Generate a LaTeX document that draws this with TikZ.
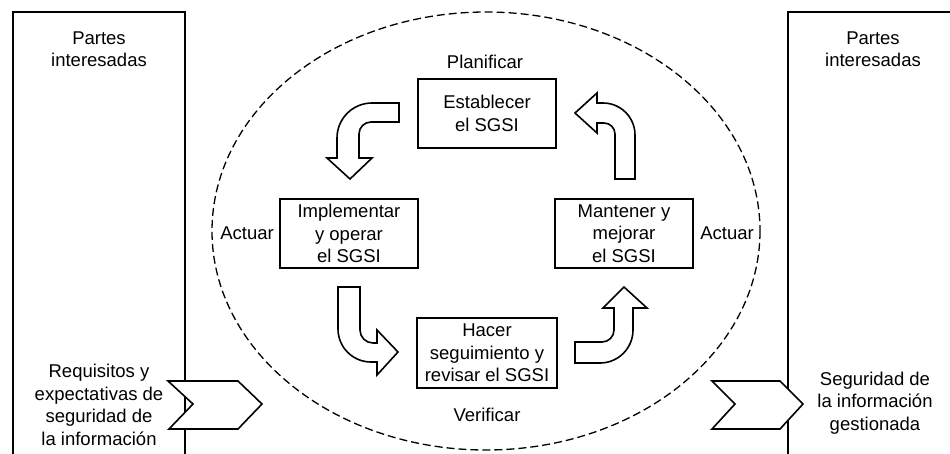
\documentclass[tikz,border=0pt]{standalone}
\usepackage{fontspec}
\setmainfont{Liberation Sans}
\newcommand\txtfont{\fontsize{18.5}{22.5}\selectfont}
\tikzset{
  frame/.style={line width=1.6pt},
  box/.style={draw, line width=1.6pt, minimum width=138pt, minimum height=69pt, align=center, inner sep=0pt, font=\txtfont},
  lbl/.style={align=center, font=\txtfont, inner sep=0pt},
  blockarrow/.style={draw, line width=1.6pt, fill=white, line join=miter},
  chev/.style={draw, line width=1.6pt, fill=white, line join=miter},
  cycleline/.style={dash pattern=on 8pt off 4pt, line width=1.3pt},
}
\begin{document}
\begin{tikzpicture}[x=1pt, y=-1pt]
\useasboundingbox (0,0) rectangle (950,453);
% outer stakeholder boxes
\draw[frame] (13,460) -- (13,12) -- (185,12) -- (185,460);
\draw[frame] (788,460) -- (788,12) -- (955,12);
\node[lbl] (pl) at (99,49) {Partes\\interesadas};
\node[lbl] (pr) at (873,49) {Partes\\interesadas};
\node[lbl] (req) at (99,405) {Requisitos y\\expectativas de\\seguridad de\\la información};
\node[lbl] (seg) at (875,403) {Seguridad de\\la información\\gestionada};
% dashed cycle
\draw[cycleline] (486,231) ellipse [x radius=274, y radius=219];
% chevrons
\draw[chev] (168,381) -- (238,381) -- (262,404) -- (238,429) -- (169,429) -- (193,404) -- cycle;
\draw[chev] (712,381) -- (780,381) -- (803,404) -- (780,429) -- (712,429) -- (735,404) -- cycle;
% process boxes
\node[box] (est) at (487,113.5) {Establecer\\el SGSI};
\node[box] (imp) at (349,233.5) {Implementar\\y operar\\el SGSI};
\node[box] (man) at (624,233.5) {Mantener y\\mejorar\\el SGSI};
\node[box, minimum width=140pt, minimum height=70pt] (hac) at (487,353) {Hacer\\seguimiento y\\revisar el SGSI};
% phase labels
\node[lbl] (plan) at (485,62) {Planificar};
\node[lbl] (ver) at (487,415) {Verificar};
\node[lbl] (actl) at (247,233) {Actuar};
\node[lbl] (actr) at (727,233) {Actuar};
% curved block arrows
\draw[blockarrow] (399,103) -- (372,103) arc[start angle=270, end angle=180, radius=35]
  -- (337,158) -- (327,158) -- (350,179) -- (372,158) -- (359,158) -- (359,134)
  arc[start angle=180, end angle=270, radius=12] -- (399,122) -- cycle;
\draw[blockarrow] (597,103) -- (603,103) arc[start angle=270, end angle=360, radius=32]
  -- (635,179) -- (615,179) -- (615,134) arc[start angle=0, end angle=-90, radius=11]
  -- (597,123) -- (597,133) -- (575,113) -- (597,93) -- cycle;
\draw[blockarrow] (338,287) -- (360,287) -- (360,330) arc[start angle=180, end angle=90, radius=13]
  -- (377,343) -- (377,330) -- (398,352) -- (377,375) -- (377,362) -- (371,362)
  arc[start angle=90, end angle=180, radius=33] -- cycle;
\draw[blockarrow] (575,342) -- (602,342) arc[start angle=90, end angle=0, radius=12]
  -- (614,308) -- (603,308) -- (624,287) -- (647,308) -- (633,308) -- (633,330)
  arc[start angle=0, end angle=90, radius=33] -- (575,363) -- cycle;
\end{tikzpicture}
\end{document}
